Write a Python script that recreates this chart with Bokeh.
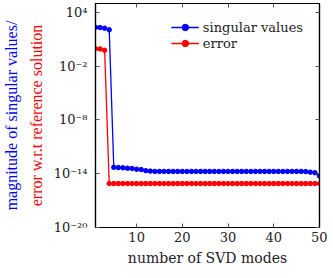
from bokeh.plotting import figure
from bokeh.models import (LinearAxis, LogAxis, FixedTicker, Title, Legend, LegendItem,
                          Range1d)
from bokeh.embed import file_html
from bokeh.resources import INLINE

# ---- data ----
modes = list(range(1, 51))
singular_values = [220, 205, 175, 115,
                   5.3e-14, 4.9e-14, 4.6e-14, 4.15e-14, 3.85e-14, 3.2e-14, 2.9e-14, 2.2e-14, 1.96e-14] + \
                  [1.82e-14] * 33 + [1.75e-14, 1.5e-14, 1.3e-14, 5.6e-15]
error = [0.9, 0.85, 0.6] + [8e-16] * 47

y_ticks = [1e-20, 1e-14, 1e-8, 1e-2, 1e4]
y_tick_labels = ["10⁻²⁰", "10⁻¹⁴", "10⁻⁸", "10⁻²", "10⁴"]
x_ticks = [10, 20, 30, 40, 50]

FONT = "Liberation Serif"
AXFONT = "DejaVu Serif"

p = figure(frame_width=224, frame_height=224, output_backend="svg", toolbar_location=None,
           y_axis_type="log", x_range=Range1d(1, 50), y_range=Range1d(1e-20, 1e5),
           min_border_left=0, min_border_right=8, min_border_top=3, min_border_bottom=0)
p.grid.visible = False
p.outline_line_color = "black"
p.outline_line_width = 1.2
p.background_fill_color = "white"
p.border_fill_color = "white"

def style(ax, labels=True):
    ax.axis_line_color = "black"
    ax.axis_line_width = 1.2
    ax.major_tick_in = 4
    ax.major_tick_out = 0
    ax.major_tick_line_color = "#555555"
    ax.minor_tick_line_color = None
    ax.major_label_text_font = AXFONT
    ax.major_label_text_font_size = "13px"
    ax.major_label_text_color = "#222222"
    if not labels:
        ax.major_label_text_font_size = "0px"
        ax.major_label_text_alpha = 0
        ax.major_label_standoff = 0

xa = p.xaxis[0]
xa.ticker = FixedTicker(ticks=x_ticks)
xa.axis_label = "number of SVD modes"
xa.axis_label_text_font = AXFONT
xa.axis_label_text_font_style = "normal"
xa.axis_label_text_font_size = "14px"
xa.axis_label_text_color = "#222222"
xa.axis_label_standoff = 5
xa.major_label_standoff = 4
style(xa)

ya = p.yaxis[0]
ya.ticker = FixedTicker(ticks=y_ticks)
ya.major_label_overrides = {t: l for t, l in zip(y_ticks, y_tick_labels)}
style(ya)
ya.major_label_standoff = 8

top = LinearAxis(ticker=FixedTicker(ticks=x_ticks))
style(top, labels=False)
p.add_layout(top, "above")
right = LogAxis(ticker=FixedTicker(ticks=y_ticks))
style(right, labels=False)
p.add_layout(right, "right")

t2 = Title(text="error w.r.t reference solution", text_color="red", align="center",
           text_font=FONT, text_font_size="16px", text_font_style="normal", standoff=12)
t1 = Title(text="magnitude of singular values/", text_color="blue", align="center",
           text_font=FONT, text_font_size="16px", text_font_style="normal", standoff=0)
p.add_layout(t2, "left")
p.add_layout(t1, "left")

l1 = p.line(modes, singular_values, color="blue", line_width=1.3)
s1 = p.scatter(modes, singular_values, color="blue", size=4.5)
l2 = p.line(modes, error, color="red", line_width=1.3)
s2 = p.scatter(modes, error, color="red", size=4.5)

legend = Legend(items=[LegendItem(label="singular values", renderers=[l1, s1]),
                       LegendItem(label="error", renderers=[l2, s2])],
                location="top_right", border_line_alpha=0, background_fill_alpha=0,
                label_text_font=AXFONT, label_text_font_size="13px", label_standoff=4,
                label_text_color="#222222",
                glyph_width=28, glyph_height=16, label_height=16, spacing=0,
                padding=0, margin=16)
p.add_layout(legend, "center")

open("out.html", "w").write(file_html(p, INLINE))
